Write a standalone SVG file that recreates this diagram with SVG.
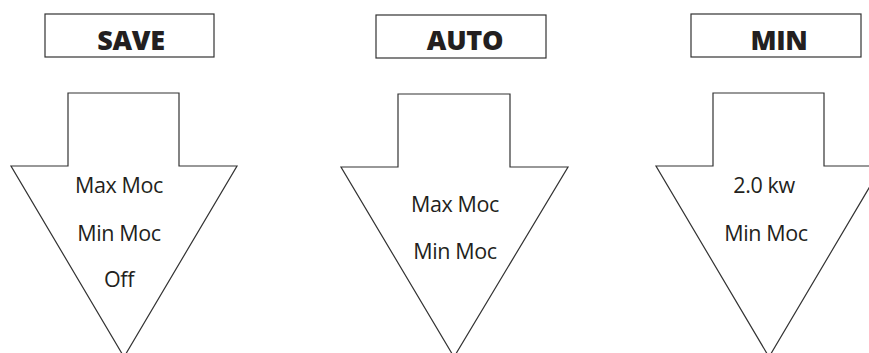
<svg xmlns="http://www.w3.org/2000/svg" width="869" height="353" viewBox="0 0 869 353">
<style>
.box{fill:#fff;stroke:#333;stroke-width:1.2}
.arrow{fill:#fff;stroke:#333;stroke-width:1.2;stroke-linejoin:miter}
.title{font-family:"Open Sans","Noto Sans",sans-serif;font-weight:800;font-size:27px;fill:#231f20;text-anchor:middle;letter-spacing:-0.3px}
.lbl{font-family:"Open Sans","Noto Sans",sans-serif;font-size:21.5px;fill:#231f20;text-anchor:middle;letter-spacing:-0.4px}
</style>
<rect width="869" height="353" fill="#fff"/>
<g id="save">
<rect class="box" x="45" y="14" width="169" height="43"/>
<text class="title" x="131" y="50">SAVE</text>
<polygon class="arrow" points="68,93 179,93 179,166 237,166 124,357 11,166 68,166"/>
<text class="lbl" x="119" y="193">Max Moc</text>
<text class="lbl" x="119" y="241">Min Moc</text>
<text class="lbl" x="119" y="287">Off</text>
</g>
<g id="auto">
<rect class="box" x="376" y="15" width="170" height="43"/>
<text class="title" x="465" y="50">AUTO</text>
<polygon class="arrow" points="398,94 510,94 510,167 568,167 454,357 341,167 398,167"/>
<text class="lbl" x="455" y="212">Max Moc</text>
<text class="lbl" x="455" y="259">Min Moc</text>
</g>
<g id="min">
<rect class="box" x="691" y="14" width="170" height="43"/>
<text class="title" x="779" y="50">MIN</text>
<polygon class="arrow" points="713,93 824,93 824,166 882,166 769,357 656,166 713,166"/>
<text class="lbl" x="764" y="193">2.0 kw</text>
<text class="lbl" x="766" y="241">Min Moc</text>
</g>
<g id="connectors"/>
</svg>
